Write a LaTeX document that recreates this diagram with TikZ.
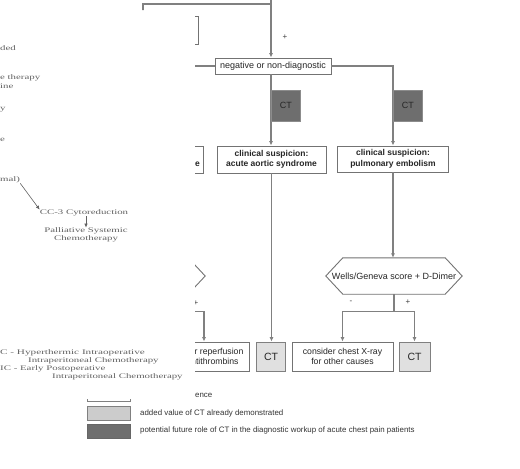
\documentclass[tikz,border=0pt]{standalone}
\usepackage{fontspec}
\setmainfont{Liberation Sans}
\newfontfamily\serifold{Liberation Serif}
\usetikzlibrary{arrows.meta,calc}
\begin{document}
\begin{tikzpicture}[x=1pt,y=-1pt,
  ln/.style={draw=black!50,line width=1.1pt},
  arr/.style={ln,-{Latex[length=4.5pt,width=4pt]}},
  fbox/.style={draw=black!55,line width=0.9pt,fill=white,inner sep=0pt,align=center,font=\fontsize{8.7}{10.5}\selectfont,text=black!85},
  bbox/.style={fbox,font=\fontsize{8.5}{10.5}\selectfont\bfseries},
  hexline/.style={draw=black!55,line width=0.9pt,fill=white},
  darkct/.style={fill=black!57,draw=black!45,line width=0.6pt,minimum width=29pt,minimum height=31pt,inner sep=0pt,font=\fontsize{9}{10}\selectfont,text=black!85},
  lightct/.style={fill=black!12,draw=black!50,line width=0.9pt,minimum width=29pt,minimum height=29pt,inner sep=0pt,font=\fontsize{10.5}{11}\selectfont,text=black!85},
  lbl/.style={font=\fontsize{8}{9}\selectfont,text=black!75,inner sep=0pt},
  old/.style={font=\serifold\fontsize{7}{8}\selectfont,text=black!62,inner sep=0pt,anchor=west},
  oldarr/.style={draw=black!62,line width=0.6pt,-{Latex[length=4pt,width=3.5pt]}},
  leg/.style={font=\fontsize{7.9}{9}\selectfont,text=black!80,inner sep=0pt,anchor=west},
  legbox/.style={minimum width=43pt,minimum height=13pt,inner sep=0pt,line width=0.9pt}
]
\useasboundingbox (0,0) rectangle (520,469);

\begin{scope}
\clip (0,0) -- (520,0) -- (520,469) -- (85,469) -- (85,399) -- (195,399) -- (195,10) -- (0,10) -- cycle;

% nodes
\node[fbox,minimum width=110pt,minimum height=28pt] (topbox) at (143,30) {};
\coordinate (top) at (271,0);
\coordinate (tj) at (271,4);
\node[fbox,minimum width=116pt,minimum height=16pt,font=\fontsize{9}{10}\selectfont] (neg) at (273,66) {negative or non-diagnostic};

\node[bbox,minimum width=110pt,minimum height=27pt] (acs) at (148,159.5) {clinical suspicion:\\acute coronary syndrome};
\node[bbox,minimum width=109pt,minimum height=27pt] (aas) at (271.5,159.5) {clinical suspicion:\\acute aortic syndrome};
\node[bbox,minimum width=111pt,minimum height=26pt] (pe) at (393,159) {clinical suspicion:\\pulmonary embolism};

\node[inner sep=0pt,minimum width=136pt,minimum height=36pt] (wells) at (394,276) {};
\node[inner sep=0pt,minimum width=114pt,minimum height=36pt] (lhex) at (148,276) {};

\node[fbox,minimum width=90pt,minimum height=29pt] (rep) at (204,356.5) {consider reperfusion\\and antithrombins};
\node[lightct] (ct3) at (271,356.5) {CT};
\node[fbox,minimum width=101pt,minimum height=29pt] (cxr) at (342.5,356.5) {consider chest X-ray\\for other causes};
\node[lightct,minimum width=31pt] (ct5) at (414.5,356.5) {CT};

% connectors
\draw[arr] (top) -- (top |- neg.north);
\draw[arr] (tj) -| (topbox.north);
\draw[arr] (neg.west) -| (acs.north);
\draw[arr] (tj |- neg.south) -- (tj |- aas.north);
\draw[arr] (neg.east) -| (pe.north);
\draw[arr] (aas.south) -- (aas.south |- ct3.north);
\draw[arr] (pe.south) -- (pe.south |- wells.north);
\draw[arr] (acs.south) -- (acs.south |- lhex.north);

% hexagons
\draw[hexline] (wells.west) -- ([xshift=17pt]wells.north west) -- ([xshift=-17pt]wells.north east) -- (wells.east) -- ([xshift=-17pt]wells.south east) -- ([xshift=17pt]wells.south west) -- cycle;
\node[inner sep=0pt,font=\fontsize{9}{10}\selectfont,text=black!85] (wellstxt) at (wells.center) {Wells/Geneva score + D-Dimer};
\draw[hexline] (lhex.west) -- ([xshift=17pt]lhex.north west) -- ([xshift=-17pt]lhex.north east) -- (lhex.east) -- ([xshift=-17pt]lhex.south east) -- ([xshift=17pt]lhex.south west) -- cycle;

\draw[ln] (wells.south) -- ++(0,17) coordinate (wj);
\draw[arr] (wj) -| (cxr.north);
\draw[arr] (wj) -| (ct5.north);
\draw[ln] (lhex.south) -- ++(0,17) coordinate (lj);
\draw[arr] (lj) -| (rep.north);

% dark CT boxes
\node[darkct,anchor=west] (ct1) at (271,105.5) {CT};
\node[darkct,anchor=west] (ct2) at (393,105.5) {CT};

% labels
\node[lbl] (p1) at (285,37) {+};
\node[lbl] (m1) at (351,302) {-};
\node[lbl] (p2) at (408,302) {+};
\node[lbl] (p3) at (196,303) {+};

% legend
\node[legbox,draw=black!50,fill=white] (l0) at (108.5,394.5) {};
\node[leg,anchor=east] (t0) at (212.5,395) {clinical evidence};
\node[legbox,draw=black!50,fill=black!20,minimum height=14pt] (l1) at (108.5,413) {};
\node[leg] (t1) at (140,413) {added value of CT already demonstrated};
\node[legbox,draw=black!60,fill=black!57,minimum height=14pt] (l2) at (108.5,431) {};
\node[leg] (t2) at (140,430) {potential future role of CT in the diagnostic workup of acute chest pain patients};
\end{scope}

% left (old) figure fragments
\node[old] (o1) at (0,48) {\scalebox{1.55}[1]{ded}};
\node[old] (o2) at (0,78) {\scalebox{1.55}[1]{e therapy}};
\node[old] (o3) at (0,86) {\scalebox{1.55}[1]{ine}};
\node[old] (o4) at (0,110) {\scalebox{1.55}[1]{y}};
\node[old] (o5) at (0,140) {\scalebox{1.55}[1]{e}};
\node[old] (o6) at (0,180) {\scalebox{1.55}[1]{mal)}};
\node[old,anchor=center] (cc3) at (84,213) {\scalebox{1.55}[1]{CC-3 Cytoreduction}};
\node[old,anchor=center,align=center] (pal) at (86,235) {\scalebox{1.55}[1]{Palliative Systemic}\\\scalebox{1.55}[1]{Chemotherapy}};
\draw[oldarr] (o6.south east) -- (cc3.north west);
\draw[oldarr] (cc3.south -| pal.north) -- (pal.north);
\node[old] (h1) at (0,353) {\scalebox{1.6}[1]{C - Hyperthermic Intraoperative}};
\node[old] (h2) at (28,361) {\scalebox{1.55}[1]{Intraperitoneal Chemotherapy}};
\node[old] (h3) at (0,369) {\scalebox{1.55}[1]{IC - Early Postoperative}};
\node[old] (h4) at (52,377) {\scalebox{1.55}[1]{Intraperitoneal Chemotherapy}};
\end{tikzpicture}
\end{document}
